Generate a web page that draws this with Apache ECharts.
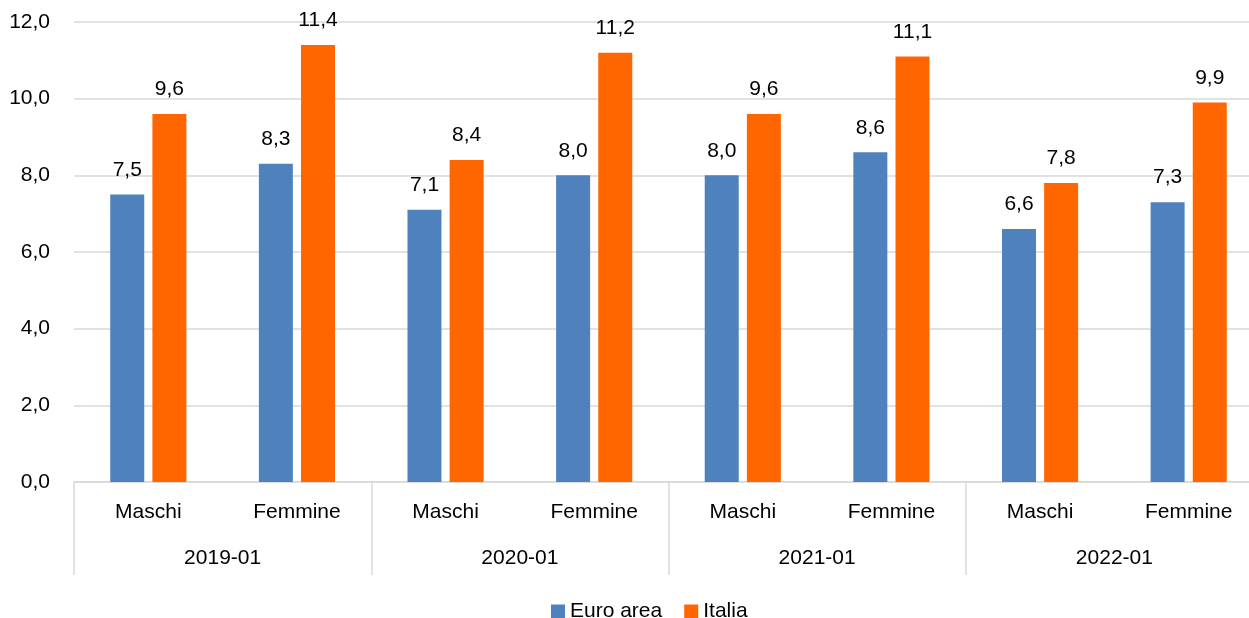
<!DOCTYPE html>
<html>
<head>
<meta charset="utf-8">
<script src="https://cdn.jsdelivr.net/npm/echarts@6/dist/echarts.min.js"></script>
<style>
  html, body { margin: 0; padding: 0; background: #fff; overflow: hidden; width: 1249px; height: 618px; }
  #chart { width: 1263px; height: 618px; }
</style>
</head>
<body>
<div id="chart"></div>
<script>
var sexes = ['Maschi', 'Femmine', 'Maschi', 'Femmine', 'Maschi', 'Femmine', 'Maschi', 'Femmine'];
var periods = ['2019-01', '2020-01', '2021-01', '2022-01'];
var euroArea = [7.5, 8.3, 7.1, 8.0, 8.0, 8.6, 6.6, 7.3];
var italia = [9.6, 11.4, 8.4, 11.2, 9.6, 11.1, 7.8, 9.9];

var fontFam = '"Liberation Sans", Arial, sans-serif';
var lineCol = '#d9d9d9';

function fmt(v) {
    return Number(v).toFixed(1).replace('.', ',');
}

var chart = echarts.init(document.getElementById('chart'));

var labelStyle = {
    show: true,
    position: 'top',
    distance: 14,
    fontSize: 21,
    color: '#000',
    fontFamily: fontFam,
    formatter: function (p) { return fmt(p.value); }
};

chart.setOption({
    animation: false,
    textStyle: { fontFamily: fontFam },
    grid: { left: 74, right: 0, top: 22, bottom: 136, containLabel: false },
    legend: {
        top: 596,
        left: 546,
        itemWidth: 14,
        itemHeight: 14,
        itemGap: 22,
        icon: 'rect',
        textStyle: { fontSize: 21, color: '#000', fontFamily: fontFam },
        data: ['Euro area', 'Italia']
    },
    xAxis: [
        {
            type: 'category',
            data: sexes,
            position: 'bottom',
            axisLine: { lineStyle: { color: lineCol, width: 1.5 } },
            axisTick: { show: false },
            axisLabel: { margin: 20, fontSize: 21, color: '#000', fontFamily: fontFam, interval: 0 }
        },
        {
            type: 'category',
            data: periods,
            position: 'bottom',
            offset: 0,
            axisLine: { show: false },
            axisTick: { show: true, length: 93, lineStyle: { color: lineCol, width: 1.5 } },
            axisLabel: { margin: 66, fontSize: 21, color: '#000', fontFamily: fontFam, interval: 0 }
        }
    ],
    yAxis: {
        type: 'value',
        min: 0,
        max: 12,
        interval: 2,
        axisLine: { show: false },
        axisTick: { show: false },
        splitLine: { lineStyle: { color: lineCol, width: 1.5 } },
        axisLabel: {
            margin: 24,
            fontSize: 21,
            color: '#000',
            fontFamily: fontFam,
            formatter: fmt
        }
    },
    series: [
        {
            name: 'Euro area',
            type: 'bar',
            xAxisIndex: 0,
            data: euroArea,
            barWidth: 34,
            barGap: '24%',
            itemStyle: { color: '#4f81bd' },
            label: labelStyle
        },
        {
            name: 'Italia',
            type: 'bar',
            xAxisIndex: 0,
            data: italia,
            barWidth: 34,
            barGap: '24%',
            itemStyle: { color: '#ff6600' },
            label: labelStyle
        }
    ]
});
</script>
</body>
</html>
